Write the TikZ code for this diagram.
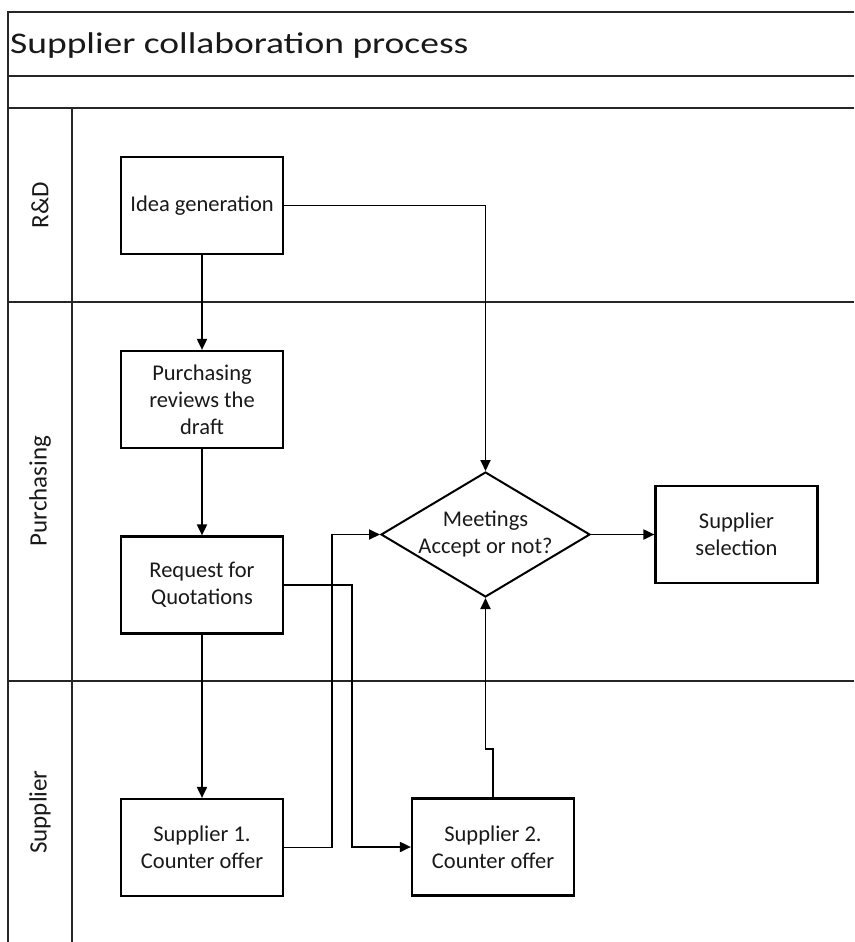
\documentclass[tikz,border=0pt]{standalone}
\usepackage{fontspec}
\setmainfont{Carlito}
\newfontfamily\titlefont[FakeStretch=1.25]{Carlito}
\usetikzlibrary{arrows.meta,shapes.geometric}
\begin{document}
\begin{tikzpicture}[x=1pt,y=-1pt,
  frame/.style={line width=2.4pt, draw=black!85},
  box/.style={draw, line width=2.2pt, minimum width=162pt, minimum height=97pt, inner sep=0pt, align=center, font=\fontsize{22.5}{27}\selectfont, text=black!90},
  dbox/.style={draw, diamond, line width=2pt, minimum width=209pt, minimum height=125pt, inner sep=0pt},
  dtext/.style={align=center, font=\fontsize{22.5}{27}\selectfont, text=black!90, inner sep=0pt},
  flow/.style={line width=1.9pt, -{Triangle[length=11pt,width=10pt]}},
  lane/.style={rotate=90, font=\fontsize{25}{30}\selectfont, text=black!90}
]
\useasboundingbox (0,0) rectangle (854,942);
% frame
\draw[frame] (854,12) -- (8,12) -- (8,942);
\draw[frame] (8,76) -- (854,76);
\draw[frame] (8,108) -- (854,108);
\draw[frame] (8,302) -- (854,302);
\draw[frame] (8,681) -- (854,681);
\draw[frame] (72,108) -- (72,942);
% title
\node[anchor=base west, inner sep=0pt, font=\titlefont\fontsize{30}{35}\selectfont, text=black!90] (title) at (10,54) {Supplier collaboration process};
% lanes
\node[lane] (lrd) at (40,205) {R\&D};
\node[lane] (lpu) at (40,491) {Purchasing};
\node[lane] (lsu) at (40,812) {Supplier};
% boxes
\node[box] (idea) at (202,205.5) {Idea generation};
\node[box] (purch) at (202,399.5) {Purchasing\\reviews the\\draft};
\node[box] (rfq) at (202,585) {Request for\\Quotations};
\node[box] (s1) at (202,847.5) {Supplier 1.\\Counter offer};
\node[box] (s2) at (493,847) {Supplier 2.\\Counter offer};
\node[box] (sel) at (736.5,534.5) {Supplier\\selection};
\node[dbox] (dia) at (485.5,534.5) {};
\node[dtext] (diat) at (485.5,534.5) {Meetings\\Accept or not?};
% connectors
\draw[flow] (idea) -- (purch);
\draw[flow] (purch) -- (rfq);
\draw[flow] (rfq) -- (s1);
\draw[flow] (idea.east) -| (dia.north);
\draw[flow] (rfq.east) -- ++(68,0) |- (s2.west);
\draw[flow] (s1.east) -- ++(48,0) |- (dia.west);
\draw[flow] (s2.north) -- ++(0,-48) -| (dia.south);
\draw[flow] (dia.east) -- (sel.west);
\end{tikzpicture}
\end{document}
